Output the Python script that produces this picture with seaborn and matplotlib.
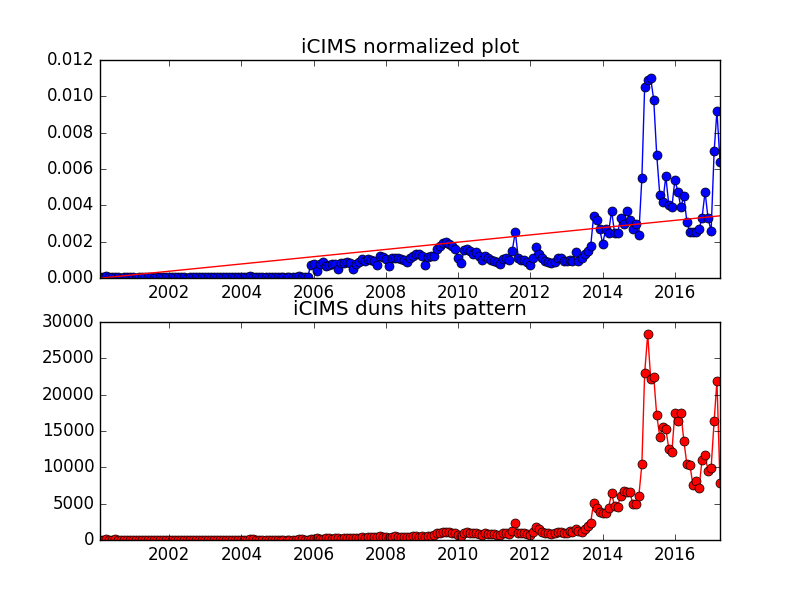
import numpy as np
import pandas as pd
import matplotlib
matplotlib.use('Agg')
import matplotlib.pyplot as plt
import matplotlib.dates as mdates
import seaborn as sns

# monthly series, first month 2000-02
start_month = "2000-02-01"

# normalized hits, in units of 1e-3
norm_e3 = [
    0.08, 0.05, 0.10, 0.06, 0.04, 0.08, 0.05, 0.03, 0.05, 0.06, 0.04, 0.05,
    0.03, 0.04, 0.05, 0.06, 0.04, 0.05, 0.03, 0.04, 0.06, 0.05, 0.04, 0.05,
    0.06, 0.04, 0.05, 0.04, 0.05, 0.03, 0.04, 0.05, 0.06, 0.05, 0.04, 0.05,
    0.04, 0.05, 0.04, 0.05, 0.04, 0.05, 0.04, 0.05, 0.04, 0.05, 0.04, 0.05,
    0.05, 0.06, 0.12, 0.08, 0.06, 0.05, 0.04, 0.05, 0.04, 0.06, 0.05, 0.04,
    0.05, 0.04, 0.06, 0.05, 0.04, 0.05, 0.10, 0.08, 0.05, 0.04,
    0.72, 0.76, 0.39, 0.79, 0.90, 0.66, 0.72, 0.79, 0.79, 0.52,
    0.81, 0.85, 0.90, 0.85, 0.48, 0.76, 0.90, 1.03, 0.94, 1.03,
    0.98, 0.94, 0.70, 1.22, 1.16, 1.03, 0.66, 1.13, 1.13, 1.13,
    1.03, 0.98, 0.90, 1.13, 1.23, 1.31, 1.35, 1.20, 0.72, 1.16,
    1.20, 1.22, 1.59, 1.77, 1.94,
    2.00, 1.90, 1.75, 1.60, 1.10, 0.84, 1.55, 1.60, 1.50, 1.33, 1.45, 1.20,
    1.00, 1.20, 1.10, 1.00, 0.94, 0.88, 0.77, 1.05, 1.10, 1.00, 1.50, 2.55,
    1.10, 1.00, 1.00, 0.88, 0.72, 1.10, 1.70, 1.33, 1.10, 0.94,
    0.88, 0.83, 0.88, 1.10, 1.10, 0.94, 0.94, 1.00, 0.94, 1.45,
    0.94, 1.10, 1.33, 1.50, 1.75, 3.40,
    3.20, 2.70, 1.90, 2.70, 2.50, 3.70, 2.50, 2.50, 3.30, 3.00,
    3.70, 3.20, 2.70, 3.00, 2.40, 5.50, 10.5, 10.9, 11.0, 9.80,
    6.80, 4.60, 4.20, 5.60, 4.00, 3.90, 5.40, 4.75, 3.90, 4.50,
    3.10, 2.55, 2.55, 2.55, 2.70, 3.30, 4.75, 3.30, 2.60, 7.00,
    9.20, 6.40,
]

# trend line values at first and last month
trend_ends = [0.0, 0.00343]

# raw duns hits
hits = [
    60, 45, 80, 55, 40, 70, 50, 35, 45, 55, 40, 50,
    35, 40, 50, 55, 40, 45, 35, 40, 55, 50, 40, 45,
    55, 40, 50, 40, 45, 35, 40, 50, 55, 45, 40, 50,
    40, 45, 40, 50, 40, 45, 40, 50, 40, 45, 40, 50,
    50, 55, 110, 80, 60, 50, 40, 50, 40, 55, 50, 40,
    50, 40, 55, 50, 40, 50, 90, 75, 50, 40,
    200, 150, 250, 200, 180, 220, 250, 200, 230, 260,
    200, 280, 300, 260, 300, 320, 300, 350, 330, 380, 400, 350, 420, 500, 450, 380,
    300, 450, 500, 480, 450, 420, 460, 480, 500, 520, 480, 500, 350, 550, 600,
    650, 900, 1000, 1100,
    1150, 1050, 1000, 900, 650, 500, 950, 1100, 1000, 900, 1000, 850,
    750, 900, 850, 800, 800, 750, 700, 900, 950, 850, 1300, 2350,
    1000, 900, 950, 800, 700, 1100, 1800, 1450, 1100, 950,
    900, 850, 900, 1100, 1150, 1000, 1000, 1250, 1150, 1550,
    1200, 1100, 1500, 1950, 2350, 5150,
    4450, 3900, 3750, 3750, 4450, 6400, 4700, 4600, 6100, 6800,
    6650, 6650, 5000, 5000, 6000, 10400, 22900, 28300, 22200, 22400,
    17200, 14200, 15600, 15300, 12500, 12100, 17500, 16300, 17500, 13600,
    10400, 10300, 7600, 8100, 7100, 11000, 11700, 9500, 9900, 16400,
    21900, 7800,
]

dates = pd.date_range(start_month, periods=len(norm_e3), freq="MS")
norm = np.array(norm_e3) * 1e-3

plt.style.use('classic')
fig, (ax1, ax2) = plt.subplots(2, 1, figsize=(8, 6), dpi=100)
fig.patch.set_facecolor('white')

sns.lineplot(x=dates, y=norm, ax=ax1, color='b', marker='o',
             markeredgecolor='k', markeredgewidth=0.5, markersize=6.5)
sns.lineplot(x=[dates[0], dates[-1]], y=trend_ends, ax=ax1, color='r')
ax1.set_ylim(0, 0.012)
ax1.set_title('iCIMS normalized plot')

sns.lineplot(x=dates, y=hits, ax=ax2, color='r', marker='o',
             markeredgecolor='k', markeredgewidth=0.5, markersize=6.5)
ax2.set_ylim(0, 30000)
ax2.set_title('iCIMS duns hits pattern')

for ax in (ax1, ax2):
    ax.set_xlim(dates[0], dates[-1])
    ax.xaxis.set_major_locator(mdates.YearLocator(2))
    ax.xaxis.set_major_formatter(mdates.DateFormatter('%Y'))
    ax.set_xlabel('')
    ax.set_ylabel('')

fig.savefig('out.png', dpi=100, facecolor='white')
